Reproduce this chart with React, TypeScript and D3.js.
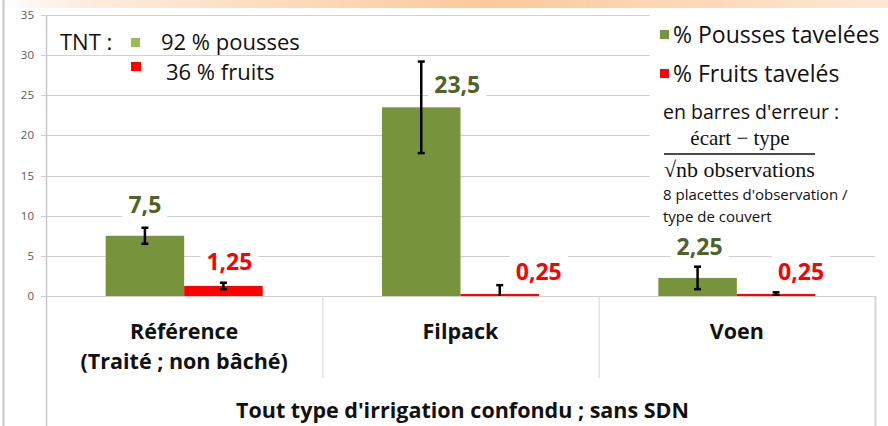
import React, { useEffect, useRef } from 'react';
import * as d3 from 'd3';

// chart values
const categories = ['Référence', 'Filpack', 'Voen'];
const categorySubLabels = ['(Traité ; non bâché)', '', ''];
const seriesNames = ['% Pousses tavelées', '% Fruits tavelés'];
const pousses = [7.5, 23.5, 2.25];
const fruits = [1.25, 0.25, 0.25];
const poussesErr = [1.0, 5.7, 1.4];
const fruitsErr = [0.4, 1.1, 0.2];
const yTicks = [0, 5, 10, 15, 20, 25, 30, 35];
const tntLines = ['92 % pousses', '36 % fruits'];
const axisTitle = "Tout type d'irrigation confondu ; sans SDN";

const GREEN = '#77933C';
const RED = '#FF0000';
const FONT = '"Open Sans", sans-serif';
const SERIF = '"Liberation Serif", serif';

// hand placement of the data labels (Excel moved some of them)
const labelNudge = [
  [[0, -23], [36, -14], [2, -23]],
  [[6, -16], [39, -14], [25, -14]],
];

const fr = (v: number) => String(v).replace('.', ',');

const App = () => {
  const ref = useRef<SVGSVGElement | null>(null);

  useEffect(() => {
    if (!ref.current) return;
    const svg = d3.select(ref.current);
    svg.selectAll('*').remove();

    const W = 888;
    const H = 426;
    const left = 46;
    const right = 875;
    const top = 15;
    const bottom = 296;

    const y = d3.scaleLinear().domain([0, 35]).range([bottom, top]);
    const x0 = d3.scaleBand().domain(categories).range([left, right]).paddingInner(0).paddingOuter(0);
    const x1 = d3.scaleBand().domain(seriesNames).range([0, x0.bandwidth()]).paddingInner(0).paddingOuter(0.76);

    const defs = svg.append('defs');
    const grad = defs.append('linearGradient').attr('id', 'topband').attr('x1', '0%').attr('x2', '100%');
    grad.append('stop').attr('offset', '0%').attr('stop-color', '#ffffff');
    grad.append('stop').attr('offset', '8%').attr('stop-color', '#fdeee2');
    grad.append('stop').attr('offset', '55%').attr('stop-color', '#fbc99b');
    grad.append('stop').attr('offset', '100%').attr('stop-color', '#fde8d6');
    defs.append('clipPath').attr('id', 'plotclip')
      .append('rect').attr('x', left).attr('y', top - 2).attr('width', right - left).attr('height', bottom - top + 2);

    svg.append('rect').attr('width', W).attr('height', H).attr('fill', '#fff');
    svg.append('rect').attr('x', 0).attr('y', 0).attr('width', W).attr('height', 8).attr('fill', 'url(#topband)');

    // outer left border
    svg.append('line').attr('x1', 3.5).attr('x2', 3.5).attr('y1', 0).attr('y2', H)
      .attr('stroke', '#c8c8c8').attr('stroke-width', 2);

    // gridlines + ticks
    svg.append('g').selectAll('line').data(yTicks).enter().append('line')
      .attr('x1', left - 5).attr('x2', right)
      .attr('y1', d => Math.round(y(d)) + 0.5).attr('y2', d => Math.round(y(d)) + 0.5)
      .attr('stroke', '#d0d0d0').attr('stroke-width', 1);

    svg.append('g').selectAll('text').data(yTicks).enter().append('text')
      .attr('x', 34).attr('y', d => y(d)).attr('dy', '0.35em')
      .attr('text-anchor', 'end').attr('font-family', FONT).attr('font-size', 11.5)
      .attr('fill', '#595959').text(d => d);

    // axis line and category frame
    svg.append('line').attr('x1', left + 0.5).attr('x2', left + 0.5).attr('y1', top).attr('y2', H)
      .attr('stroke', '#c8c8c8').attr('stroke-width', 1.5);
    svg.append('line').attr('x1', right + 0.5).attr('x2', right + 0.5).attr('y1', bottom).attr('y2', H)
      .attr('stroke', '#d6d6d6').attr('stroke-width', 2);
    svg.append('g').selectAll('line').data(categories.slice(1)).enter().append('line')
      .attr('x1', d => (x0(d) as number) + 0.5).attr('x2', d => (x0(d) as number) + 0.5)
      .attr('y1', bottom).attr('y2', 378)
      .attr('stroke', '#d6d6d6').attr('stroke-width', 1);

    // legend panel (white, hides the gridlines behind it)
    svg.append('rect').attr('x', 650).attr('y', 11).attr('width', W - 650).attr('height', 217).attr('fill', '#fff');

    // bars
    const values = [pousses, fruits];
    const errs = [poussesErr, fruitsErr];
    const colors = [GREEN, RED];

    const barG = svg.append('g');
    seriesNames.forEach((s, si) => {
      barG.selectAll(`.bar${si}`).data(categories).enter().append('rect')
        .attr('x', d => (x0(d) as number) + (x1(s) as number))
        .attr('width', x1.bandwidth())
        .attr('y', (d, i) => y(values[si][i]))
        .attr('height', (d, i) => bottom - y(values[si][i]))
        .attr('fill', colors[si]);
    });

    // error bars
    const errG = svg.append('g').attr('clip-path', 'url(#plotclip)');
    seriesNames.forEach((s, si) => {
      categories.forEach((c, i) => {
        const cx = (x0(c) as number) + (x1(s) as number) + x1.bandwidth() / 2;
        const hi = y(values[si][i] + errs[si][i]);
        const lo = y(values[si][i] - errs[si][i]);
        errG.append('line').attr('x1', cx).attr('x2', cx).attr('y1', hi).attr('y2', lo)
          .attr('stroke', '#000').attr('stroke-width', 2.5);
        [hi, lo].forEach(yy => {
          errG.append('line').attr('x1', cx - 3.5).attr('x2', cx + 3.5).attr('y1', yy).attr('y2', yy)
            .attr('stroke', '#000').attr('stroke-width', 2.5);
        });
      });
    });

    // data labels with white backing
    const labelColors = ['#4F6228', RED];
    seriesNames.forEach((s, si) => {
      categories.forEach((c, i) => {
        const cx = (x0(c) as number) + (x1(s) as number) + x1.bandwidth() / 2 + labelNudge[si][i][0];
        const by = y(values[si][i]) + labelNudge[si][i][1];
        const g = svg.append('g');
        const bg = g.append('rect').attr('fill', '#fff');
        const t = g.append('text')
          .attr('x', cx).attr('y', by).attr('text-anchor', 'middle')
          .attr('font-family', FONT).attr('font-weight', 'bold').attr('font-size', 23)
          .attr('fill', labelColors[si]).text(fr(values[si][i]));
        const bb = (t.node() as SVGTextElement).getBBox();
        bg.attr('x', bb.x - 6).attr('y', bb.y).attr('width', bb.width + 12).attr('height', bb.height);
      });
    });

    // category labels
    svg.append('g').selectAll('text').data(categories).enter().append('text')
      .attr('x', d => (x0(d) as number) + x0.bandwidth() / 2).attr('y', 339)
      .attr('text-anchor', 'middle').attr('font-family', FONT).attr('font-weight', 'bold')
      .attr('font-size', 21.5).attr('fill', '#111').text(d => d);
    svg.append('g').selectAll('text').data(categorySubLabels).enter().append('text')
      .attr('x', (d, i) => (x0(categories[i]) as number) + x0.bandwidth() / 2).attr('y', 369)
      .attr('text-anchor', 'middle').attr('font-family', FONT).attr('font-weight', 'bold')
      .attr('font-size', 21.5).attr('fill', '#111').text(d => d);

    svg.append('text').attr('x', (left + right) / 2 + 2).attr('y', 418)
      .attr('text-anchor', 'middle').attr('font-family', FONT).attr('font-weight', 'bold')
      .attr('font-size', 21.5).attr('fill', '#111').text(axisTitle);

    // TNT note
    svg.append('text').attr('x', 60).attr('y', 50).attr('font-family', FONT).attr('font-size', 22)
      .attr('fill', '#111').text('TNT :');
    svg.append('rect').attr('x', 131).attr('y', 38).attr('width', 9).attr('height', 9).attr('fill', '#9BBB59');
    svg.append('rect').attr('x', 131).attr('y', 62).attr('width', 10).attr('height', 9).attr('fill', RED);
    svg.append('text').attr('x', 161).attr('y', 50).attr('font-family', FONT).attr('font-size', 22)
      .attr('fill', '#111').text(tntLines[0]);
    svg.append('text').attr('x', 166).attr('y', 80).attr('font-family', FONT).attr('font-size', 22)
      .attr('fill', '#111').text(tntLines[1]);

    // legend
    const lg = svg.append('g');
    seriesNames.forEach((s, si) => {
      lg.append('rect').attr('x', 660).attr('y', 30 + si * 39).attr('width', 9).attr('height', 9).attr('fill', colors[si]);
      lg.append('text').attr('x', 673).attr('y', 43 + si * 39).attr('font-family', FONT).attr('font-size', 23)
        .attr('fill', '#111').text(s);
    });
    lg.append('text').attr('x', 663).attr('y', 119).attr('font-family', FONT).attr('font-size', 19.5)
      .attr('fill', '#111').text("en barres d'erreur :");
    lg.append('text').attr('x', 740).attr('y', 145).attr('text-anchor', 'middle')
      .attr('font-family', SERIF).attr('font-size', 21)
      .attr('fill', '#111').text('écart − type');
    lg.append('line').attr('x1', 664).attr('x2', 815).attr('y1', 154).attr('y2', 154)
      .attr('stroke', '#111').attr('stroke-width', 1.5);
    lg.append('text').attr('x', 664).attr('y', 177)
      .attr('font-family', SERIF).attr('font-size', 22)
      .attr('fill', '#111').text('√nb observations');
    lg.append('text').attr('x', 663).attr('y', 200).attr('font-family', FONT).attr('font-size', 15)
      .attr('fill', '#111').text("8 placettes d'observation /");
    lg.append('text').attr('x', 663).attr('y', 222).attr('font-family', FONT).attr('font-size', 15)
      .attr('fill', '#111').text('type de couvert');
  }, []);

  return (
    <svg
      ref={ref}
      width={888}
      height={426}
      style={{ position: 'absolute', left: 0, top: 0, display: 'block' }}
    />
  );
};

export default App;
